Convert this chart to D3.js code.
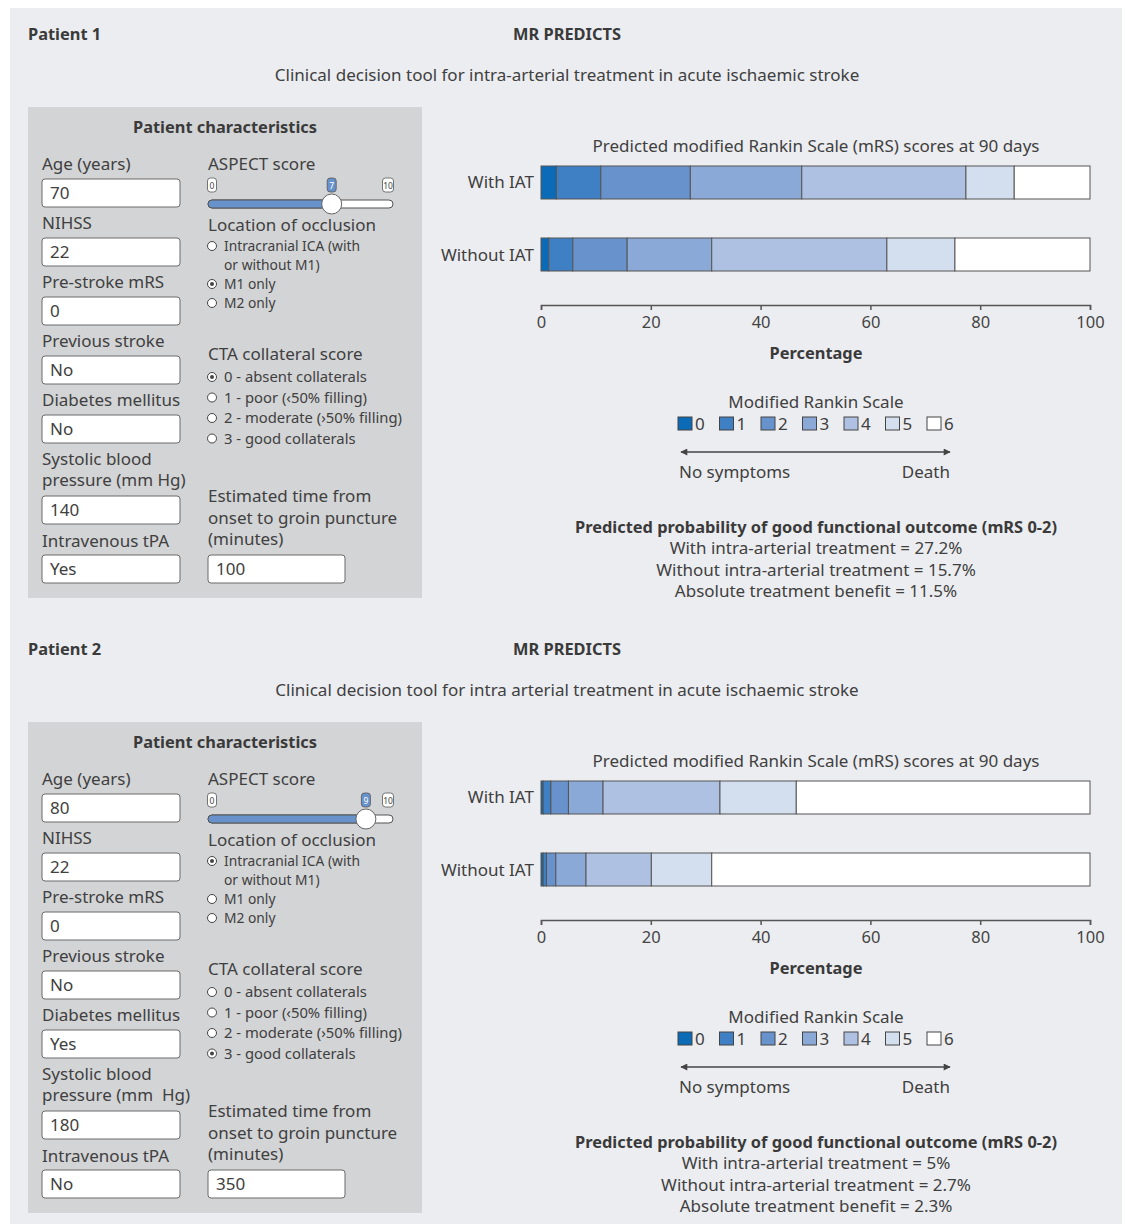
<!DOCTYPE html>
<html>
<head>
<meta charset="utf-8">
<script src="https://cdn.jsdelivr.net/npm/d3@7"></script>
<style>
  body { margin: 0; background: #fff; }
  svg { display: block; font-family: "Noto Sans", sans-serif; }
  text { fill: #404040; }
  .bold { font-weight: bold; fill: #3a3a3a; }
  .axis path, .axis line { stroke: #555; stroke-width: 1.5; }
  .axis text { font-family: "Noto Sans", sans-serif; font-size: 16.5px; fill: #444; }
</style>
</head>
<body>
<div id="vis_container"></div>
<script>
// mRS categories and bar labels
var mrs_levels = ["0", "1", "2", "3", "4", "5", "6"];
var mrs_colors = ["#0c6bb7", "#3f7fc3", "#6892cb", "#8aa9d7", "#aec1e2", "#d3deef", "#ffffff"];
var arms = ["With IAT", "Without IAT"];
var ticks = [0, 20, 40, 60, 80, 100];

// share of patients per mRS score (percent)
var p1_with = [2.8, 8.1, 16.3, 20.3, 29.9, 8.8, 13.8];
var p1_without = [1.4, 4.4, 9.9, 15.4, 31.9, 12.4, 24.6];
var p2_with = [0.4, 1.4, 3.2, 6.3, 21.3, 13.9, 53.5];
var p2_without = [0.4, 0.6, 1.7, 5.5, 11.9, 11.0, 68.9];

// patient inputs
var left_labels = [["Age (years)"], ["NIHSS"], ["Pre-stroke mRS"], ["Previous stroke"], ["Diabetes mellitus"], ["Systolic blood", "pressure (mm Hg)"], ["Intravenous tPA"]];
var left_labels2 = [["Age (years)"], ["NIHSS"], ["Pre-stroke mRS"], ["Previous stroke"], ["Diabetes mellitus"], ["Systolic blood", "pressure (mm  Hg)"], ["Intravenous tPA"]];
var p1_values = ["70", "22", "0", "No", "No", "140", "Yes"];
var p2_values = ["80", "22", "0", "No", "Yes", "180", "No"];
var location_options = [["Intracranial ICA (with", "or without M1)"], ["M1 only"], ["M2 only"]];
var cta_options = ["0 - absent collaterals", "1 - poor (‹50% filling)", "2 - moderate (›50% filling)", "3 - good collaterals"];
var p1_aspect = 7, p2_aspect = 9;
var p1_location = 1, p2_location = 0;
var p1_cta = 0, p2_cta = 3;
var p1_time = "100", p2_time = "350";

var p1_subtitle = "Clinical decision tool for intra-arterial treatment in acute ischaemic stroke";
var p2_subtitle = "Clinical decision tool for intra arterial treatment in acute ischaemic stroke";
var p1_results = ["With intra-arterial treatment = 27.2%", "Without intra-arterial treatment = 15.7%", "Absolute treatment benefit = 11.5%"];
var p2_results = ["With intra-arterial treatment = 5%", "Without intra-arterial treatment = 2.7%", "Absolute treatment benefit = 2.3%"];

var patients = [
  {name: "Patient 1", subtitle: p1_subtitle, labels: left_labels, values: p1_values, aspect: p1_aspect,
   location: p1_location, cta: p1_cta, time: p1_time, bars: [p1_with, p1_without], results: p1_results},
  {name: "Patient 2", subtitle: p2_subtitle, labels: left_labels2, values: p2_values, aspect: p2_aspect,
   location: p2_location, cta: p2_cta, time: p2_time, bars: [p2_with, p2_without], results: p2_results}
];

var width = 1125, height = 1224;
var fs = "17px", fs_bold = "16.4px", fs_opt = "14.8px", fs_loc = "13.8px";

var x = d3.scaleLinear().domain([0, 100]).range([541, 1090]);
var y = d3.scaleBand().domain(arms).range([146.5, 290.5]).paddingInner(0.5417).paddingOuter(0.2708);
var aspect_x = d3.scaleLinear().domain([0, 10]).range([212, 383]);
var legend_x = d3.scalePoint().domain(mrs_levels).range([678, 927]);
var color = d3.scaleOrdinal().domain(mrs_levels).range(mrs_colors);

var svg = d3.select("#vis_container").append("svg")
  .attr("width", width)
  .attr("height", height);

svg.append("rect")
  .attr("x", 10).attr("y", 8)
  .attr("width", 1112).attr("height", 1216)
  .attr("fill", "#ecedf0");

svg.append("defs").append("marker")
  .attr("id", "arrow")
  .attr("viewBox", "0 0 10 10")
  .attr("refX", 9).attr("refY", 5)
  .attr("markerWidth", 10).attr("markerHeight", 7)
  .attr("markerUnits", "userSpaceOnUse")
  .attr("orient", "auto-start-reverse")
  .append("path").attr("d", "M0,0L10,5L0,10Z").attr("fill", "#444");

function inputBox(g, bx, by, w, value) {
  g.append("rect")
    .attr("x", bx).attr("y", by).attr("width", w).attr("height", 28).attr("rx", 3)
    .attr("fill", "#fff").attr("stroke", "#6a6a6a").attr("stroke-width", 1);
  g.append("text").attr("x", bx + 8).attr("y", by + 20).style("font-size", fs).text(value);
}

function radio(g, cx, cy, selected) {
  g.append("circle").attr("cx", cx).attr("cy", cy).attr("r", 4.5)
    .attr("fill", "#fff").attr("stroke", "#444").attr("stroke-width", 1);
  if (selected) g.append("circle").attr("cx", cx).attr("cy", cy).attr("r", 2).attr("fill", "#444");
}

function drawPatient(p, offset) {
  var g = svg.append("g").attr("transform", "translate(0," + offset + ")");

  g.append("text").attr("class", "bold").attr("x", 28).attr("y", 40).style("font-size", fs_bold).text(p.name);
  g.append("text").attr("class", "bold").attr("x", 567).attr("y", 40).attr("text-anchor", "middle").style("font-size", fs_bold).text("MR PREDICTS");
  g.append("text").attr("x", 567).attr("y", 81).attr("text-anchor", "middle").style("font-size", fs).text(p.subtitle);

  // patient characteristics panel
  g.append("rect").attr("x", 28).attr("y", 107).attr("width", 394).attr("height", 491).attr("fill", "#d3d4d6");
  g.append("text").attr("class", "bold").attr("x", 225).attr("y", 133).attr("text-anchor", "middle").style("font-size", fs_bold).text("Patient characteristics");

  var label_y = [170, 229, 288, 347, 406, 465, 547];
  var box_y = [179, 238, 297, 356, 415, 496, 555];
  p.labels.forEach(function(lines, i) {
    var t = g.append("text").attr("y", label_y[i]).style("font-size", fs).attr("xml:space", "preserve");
    lines.forEach(function(line, j) {
      t.append("tspan").attr("x", 42).attr("dy", j === 0 ? 0 : 21).text(line);
    });
    inputBox(g, 42, box_y[i], 138, p.values[i]);
  });

  // ASPECT slider
  g.append("text").attr("x", 208).attr("y", 170).style("font-size", fs).text("ASPECT score");
  var hx = aspect_x(p.aspect);
  g.append("rect").attr("x", 208).attr("y", 200).attr("width", 185).attr("height", 8).attr("rx", 4)
    .attr("fill", "#fff").attr("stroke", "#555").attr("stroke-width", 1);
  g.append("rect").attr("x", 208).attr("y", 200).attr("width", hx - 208).attr("height", 8).attr("rx", 4)
    .attr("fill", "#6892cb").attr("stroke", "#555").attr("stroke-width", 1);
  g.append("circle").attr("cx", hx).attr("cy", 204).attr("r", 10).attr("fill", "#fff").attr("stroke", "#666");
  [{v: "0", cx: 212, on: false}, {v: String(p.aspect), cx: hx, on: true}, {v: "10", cx: 388, on: false}].forEach(function(t) {
    var w = t.v.length > 1 ? 11 : 9;
    g.append("rect").attr("x", t.cx - w / 2).attr("y", 178).attr("width", w).attr("height", 14).attr("rx", 3)
      .attr("fill", t.on ? "#6892cb" : "#fff").attr("stroke", "#555").attr("stroke-width", 0.8);
    g.append("text").attr("x", t.cx).attr("y", 188.5).attr("text-anchor", "middle").style("font-size", "8.5px")
      .style("fill", t.on ? "#fff" : "#444").text(t.v);
  });

  // location of occlusion
  g.append("text").attr("x", 208).attr("y", 231).style("font-size", fs).text("Location of occlusion");
  var loc_y = [[251, 270], [289], [308]];
  location_options.forEach(function(lines, i) {
    radio(g, 212, loc_y[i][0] - 5, i === p.location);
    lines.forEach(function(line, j) {
      g.append("text").attr("x", 224).attr("y", loc_y[i][j]).style("font-size", fs_loc).text(line);
    });
  });

  // CTA collateral score
  g.append("text").attr("x", 208).attr("y", 360).style("font-size", fs).text("CTA collateral score");
  cta_options.forEach(function(opt, i) {
    var oy = 382 + i * 20.5;
    radio(g, 212, oy - 5, i === p.cta);
    g.append("text").attr("x", 224).attr("y", oy).style("font-size", fs_opt).text(opt);
  });

  var est = g.append("text").attr("y", 502).style("font-size", fs);
  ["Estimated time from", "onset to groin puncture", "(minutes)"].forEach(function(line, j) {
    est.append("tspan").attr("x", 208).attr("dy", j === 0 ? 0 : 21.5).text(line);
  });
  inputBox(g, 208, 555, 137, p.time);

  // stacked bars
  g.append("text").attr("x", 816).attr("y", 152).attr("text-anchor", "middle").style("font-size", fs)
    .text("Predicted modified Rankin Scale (mRS) scores at 90 days");

  arms.forEach(function(arm, a) {
    var vals = p.bars[a];
    var segs = [];
    var cum = 0;
    vals.forEach(function(v, i) {
      segs.push({level: mrs_levels[i], x0: cum, x1: cum + v});
      cum += v;
    });
    g.selectAll(".seg" + a).data(segs).enter().append("rect")
      .attr("class", "seg" + a)
      .attr("x", function(d) { return x(d.x0); })
      .attr("y", y(arm))
      .attr("width", function(d) { return x(d.x1) - x(d.x0); })
      .attr("height", y.bandwidth())
      .attr("fill", function(d) { return color(d.level); })
      .attr("stroke", "#555")
      .attr("stroke-width", 1);
    g.append("text").attr("x", 534).attr("y", y(arm) + y.bandwidth() / 2 + 6).attr("text-anchor", "end")
      .style("font-size", fs).text(arm);
  });

  g.append("g").attr("class", "axis")
    .attr("transform", "translate(0,305)")
    .call(d3.axisBottom(x).tickValues(ticks).tickSize(5).tickSizeOuter(5).tickPadding(6));

  g.append("text").attr("class", "bold").attr("x", 816).attr("y", 359).attr("text-anchor", "middle").style("font-size", fs_bold).text("Percentage");

  // legend
  g.append("text").attr("x", 816).attr("y", 408).attr("text-anchor", "middle").style("font-size", fs).text("Modified Rankin Scale");
  mrs_levels.forEach(function(lv) {
    g.append("rect").attr("x", legend_x(lv)).attr("y", 417).attr("width", 14).attr("height", 13)
      .attr("fill", color(lv)).attr("stroke", "#444").attr("stroke-width", 1);
    g.append("text").attr("x", legend_x(lv) + 17).attr("y", 430).style("font-size", fs).text(lv);
  });
  g.append("line").attr("x1", 681).attr("x2", 950).attr("y1", 452).attr("y2", 452)
    .attr("stroke", "#444").attr("stroke-width", 1.5)
    .attr("marker-start", "url(#arrow)").attr("marker-end", "url(#arrow)");
  g.append("text").attr("x", 679).attr("y", 478).style("font-size", fs).text("No symptoms");
  g.append("text").attr("x", 950).attr("y", 478).attr("text-anchor", "end").style("font-size", fs).text("Death");

  // results
  g.append("text").attr("class", "bold").attr("x", 816).attr("y", 533).attr("text-anchor", "middle").style("font-size", fs_bold)
    .text("Predicted probability of good functional outcome (mRS 0-2)");
  p.results.forEach(function(r, i) {
    g.append("text").attr("x", 816).attr("y", 554 + i * 21.5).attr("text-anchor", "middle").style("font-size", fs).text(r);
  });
}

drawPatient(patients[0], 0);
drawPatient(patients[1], 615);
</script>
</body>
</html>
